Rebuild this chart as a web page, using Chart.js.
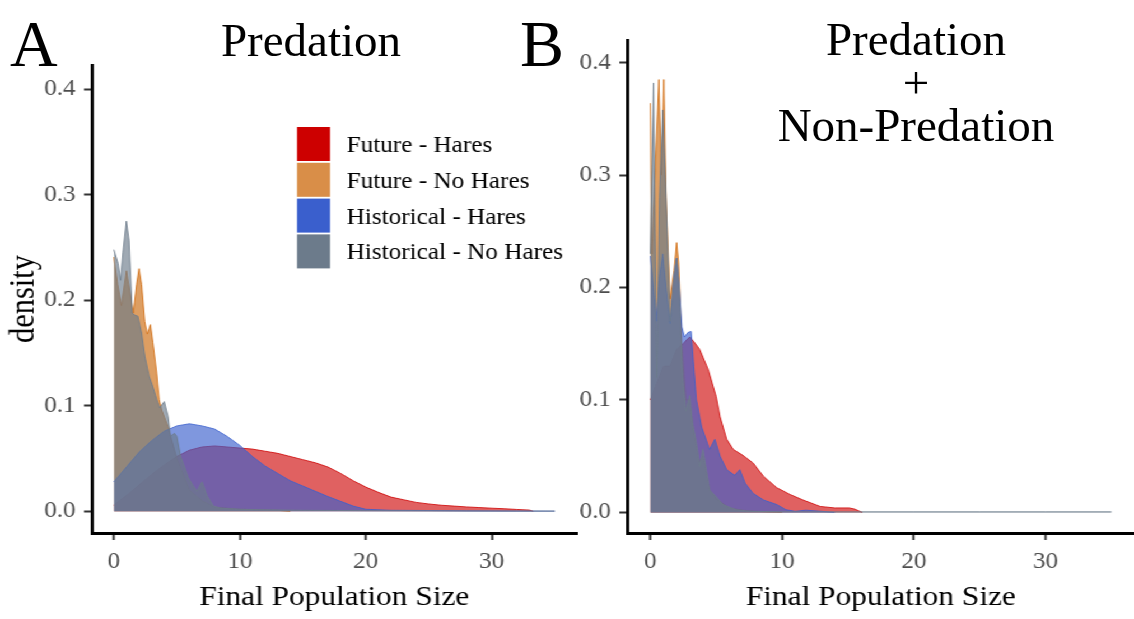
<!DOCTYPE html>
<html><head><meta charset="utf-8">
<script src="https://cdn.jsdelivr.net/npm/chart.js@4.4.1/dist/chart.umd.min.js"></script>
<style>
html,body{margin:0;padding:0;background:#fff;overflow:hidden;width:1134px;height:619px;}
#plots{position:absolute;left:0;top:0;width:1013px;height:619px;transform:scaleX(1.12);transform-origin:0 0;}
#plots canvas{position:absolute;top:0;}
.lbl{position:absolute;font-family:"Liberation Serif","Times New Roman",serif;color:#000;line-height:1;white-space:nowrap;}
</style></head><body>
<div id="plots">
<canvas id="cA" width="518" height="619" style="left:0;width:518px;height:619px"></canvas>
<canvas id="cB" width="495" height="619" style="left:518px;width:495px;height:619px"></canvas>
</div>
<div class="lbl" style="left:10px;top:11px;font-size:66px">A</div>
<div class="lbl" style="left:211px;top:17px;width:200px;text-align:center;font-size:47px">Predation</div>
<div class="lbl" style="left:520px;top:11px;font-size:66px">B</div>
<div class="lbl" style="left:716px;top:18px;width:400px;text-align:center;font-size:47px;line-height:43px">Predation<br>+<br>Non-Predation</div>
<script>
// ---------- data ----------
const seriesLabels = ['Future - Hares', 'Future - No Hares', 'Historical - Hares', 'Historical - No Hares'];
const xTicks = [0, 10, 20, 30];
const yTicks = [0.0, 0.1, 0.2, 0.3, 0.4];

// Panel A: Predation
const predFutureHaresX = [0,1,2,3,4,5,6,7,8,9,10,11,12,13,14,15,16,17,18,19,20,21,22,23,24,25,26,27,28,29,30,31,32,33,33.3];
const predFutureHaresY = [0.006,0.015,0.025,0.035,0.044,0.052,0.058,0.061,0.062,0.061,0.060,0.059,0.057,0.055,0.052,0.049,0.046,0.042,0.036,0.029,0.023,0.018,0.0135,0.011,0.0085,0.007,0.0058,0.005,0.0042,0.0036,0.003,0.0025,0.0018,0.0012,0];
const predFutureNoHaresX = [0,0.3,0.6,1.0,1.3,1.55,1.8,2.0,2.2,2.45,2.65,2.9,3.1,3.4,3.6,3.8,4.3,5.0,5.5,6.0,7.0,8.0,10,13,14];
const predFutureNoHaresY = [0.241,0.215,0.195,0.228,0.205,0.188,0.215,0.230,0.215,0.180,0.168,0.177,0.160,0.131,0.106,0.096,0.080,0.050,0.035,0.020,0.010,0.004,0.002,0.001,0];
const predHistHaresX = [0,1,2,3,4,5,6,7,8,9,10,11,12,13,14,15,16,17,18,19,20,22,25,28,32,35];
const predHistHaresY = [0.028,0.042,0.056,0.067,0.076,0.081,0.083,0.081,0.078,0.071,0.0625,0.052,0.043,0.036,0.029,0.024,0.019,0.014,0.0095,0.005,0.002,0.001,0.0008,0.0005,0.0003,0.0002];
const predHistNoHaresX = [0,0.33,0.53,0.72,0.99,1.2,1.46,1.64,1.9,2.2,2.46,2.8,3.1,3.4,3.65,4.0,4.3,4.5,4.8,5.0,5.3,5.9,6.3,6.6,7.0,7.4,7.9,8.5,10,12,15,20,25,30,35];
const predHistNoHaresY = [0.248,0.235,0.219,0.245,0.275,0.257,0.188,0.186,0.185,0.169,0.147,0.128,0.118,0.106,0.098,0.104,0.090,0.071,0.074,0.071,0.052,0.032,0.024,0.019,0.028,0.0145,0.005,0.003,0.002,0.0015,0.001,0.0007,0.0005,0.0004,0.0003];

// Panel B: Predation + Non-Predation
const bothFutureHaresX = [0,0.5,1.0,1.5,2.0,2.5,2.8,3.0,3.3,3.75,4.4,5.0,5.3,5.8,6.3,7.0,7.8,8.6,9.6,10.6,11.6,12.9,14,15.1,15.5,16.1];
const bothFutureHaresY = [0.10,0.115,0.13,0.13,0.145,0.15,0.154,0.156,0.152,0.145,0.127,0.103,0.085,0.065,0.056,0.051,0.044,0.032,0.022,0.016,0.011,0.0053,0.004,0.004,0.003,0];
const bothFutureNoHaresX = [0,0.12,0.65,0.85,1.03,1.2,1.5,1.8,2.0,2.15,2.4,2.7,3.0,3.3,3.7,4.0,4.5,5.0,6.0,7.0,8.0,10];
const bothFutureNoHaresY = [0.364,0.23,0.385,0.30,0.385,0.28,0.19,0.215,0.24,0.222,0.15,0.10,0.10,0.07,0.045,0.05,0.02,0.012,0.004,0.002,0.001,0];
const bothHistHaresX = [0,0.25,0.46,0.7,0.95,1.2,1.5,1.8,2.0,2.2,2.4,2.6,2.85,3.1,3.3,3.5,3.9,4.5,4.9,5.3,5.8,6.4,6.8,7.2,7.8,8.6,9.6,10.3,11,11.8,13,14];
const bothHistHaresY = [0.228,0.2,0.17,0.21,0.23,0.2,0.168,0.21,0.226,0.2,0.165,0.156,0.16,0.161,0.13,0.1,0.076,0.056,0.065,0.05,0.038,0.033,0.038,0.026,0.017,0.011,0.007,0.0024,0.001,0.002,0.001,0];
const bothHistNoHaresX = [0,0.25,0.5,0.7,0.95,1.2,1.5,1.8,2.0,2.2,2.45,2.7,3.0,3.2,3.5,3.75,4.0,4.5,5.0,5.5,6.5,7.5,10,15,20,25,30,35];
const bothHistNoHaresY = [0.23,0.382,0.12,0.28,0.358,0.28,0.17,0.21,0.226,0.2,0.12,0.09,0.104,0.08,0.062,0.041,0.056,0.02,0.014,0.007,0.0024,0.001,0.0006,0.0005,0.0005,0.0005,0.0005,0.0005];

// ---------- styles ----------
const F = '"Liberation Serif", "Times New Roman", serif';
const legendColors = ['#CD0000', '#D98E48', '#3A5FCD', '#6C7B8B'];
const fillColors = ['rgba(205,0,0,0.62)', 'rgba(210,125,45,0.75)', 'rgba(58,95,205,0.65)', 'rgba(108,123,139,0.65)'];
const lineColors = ['rgba(205,0,0,0.8)', 'rgba(210,110,20,0.85)', 'rgba(58,95,205,0.8)', 'rgba(108,123,139,0.85)'];
const drawOrder = [4, 3, 2, 1]; // later series drawn on top

function pts(xs, ys) { return xs.map((x, i) => ({x: x, y: ys[i]})); }
function makeDatasets(list) {
  return list.map((s, i) => ({
    label: seriesLabels[i], data: pts(s[0], s[1]), order: drawOrder[i],
    fill: 'origin', backgroundColor: fillColors[i], borderColor: lineColors[i],
    borderWidth: 1, pointRadius: 0, tension: 0
  }));
}

const insideLegend = {
  id: 'insideLegend',
  afterDraw(chart, args, o) {
    const ctx = chart.ctx;
    ctx.save();
    seriesLabels.forEach((lab, i) => {
      const y0 = o.top + i * o.pitch;
      ctx.fillStyle = legendColors[i];
      ctx.fillRect(o.x, y0, o.w, o.h);
      ctx.fillStyle = '#000';
      ctx.font = '22.5px ' + F;
      ctx.textBaseline = 'middle';
      ctx.textAlign = 'left';
      ctx.fillText(lab, o.textX, y0 + o.h / 2 + 2);
    });
    ctx.restore();
  }
};

function makeOptions(p) {
  return {
    responsive: false, animation: false, devicePixelRatio: 1,
    layout: {padding: {top: p.top, left: 0, right: p.right, bottom: 0}},
    plugins: {legend: {display: false}, tooltip: {enabled: false},
      insideLegend: {x: 265.2, w: 29.5, top: 127, pitch: 35.8, h: 34, textX: 309.6}},
    scales: {
      x: {
        type: 'linear', min: -1.75, max: 36.75,
        afterBuildTicks: s => { s.ticks = xTicks.map(v => ({value: v})); },
        afterFit: s => { s.height = 86; },
        ticks: {font: {family: F, size: 22.5}, color: '#4d4d4d', padding: 8.5, maxRotation: 0, autoSkip: false,
          callback: v => String(v)},
        grid: {display: true, drawOnChartArea: false, drawTicks: true, tickLength: 7, tickWidth: 2, tickColor: '#333', color: '#333'},
        border: {display: true, color: '#000', width: 3},
        title: {display: true, text: 'Final Population Size', font: {family: F, size: 28}, color: '#000', padding: {top: 0, bottom: 5}}
      },
      y: {
        type: 'linear', min: p.ymin, max: p.ymax,
        afterBuildTicks: s => { s.ticks = yTicks.map(v => ({value: v})); },
        afterFit: s => { s.width = p.yWidth; },
        ticks: {font: {family: F, size: 22.5}, color: '#4d4d4d', padding: 7.5, autoSkip: false,
          callback: v => Number(v).toFixed(1)},
        grid: {display: true, drawOnChartArea: false, drawTicks: true, tickLength: 7, tickWidth: 2, tickColor: '#333', color: '#333'},
        border: {display: true, color: '#000', width: 2.8},
        title: p.yTitle ? {display: true, text: 'density', font: {family: F, size: 30.5}, color: '#000', padding: {top: 4, bottom: 0}} : {display: false}
      }
    }
  };
}

function drawAll() {
  new Chart(document.getElementById('cA'), {
    type: 'line',
    data: {datasets: makeDatasets([
      [predFutureHaresX, predFutureHaresY],
      [predFutureNoHaresX, predFutureNoHaresY],
      [predHistHaresX, predHistHaresY],
      [predHistNoHaresX, predHistNoHaresY]])},
    options: makeOptions({top: 65, right: 3, yWidth: 82, ymin: -0.0205, ymax: 0.423, yTitle: true}),
    plugins: [insideLegend]
  });
  new Chart(document.getElementById('cB'), {
    type: 'line',
    data: {datasets: makeDatasets([
      [bothFutureHaresX, bothFutureHaresY],
      [bothFutureNoHaresX, bothFutureNoHaresY],
      [bothHistHaresX, bothHistHaresY],
      [bothHistNoHaresX, bothHistNoHaresY]])},
    options: makeOptions({top: 40, right: 0, yWidth: 42, ymin: -0.0183, ymax: 0.4202, yTitle: false})
  });
}

let done = false;
function go() { if (!done) { done = true; drawAll(); } }
if (document.fonts && document.fonts.load) {
  Promise.all([
    document.fonts.load('22.5px "Liberation Serif"'),
    document.fonts.load('28px "Liberation Serif"')
  ]).then(() => document.fonts.ready).then(go, go);
  setTimeout(go, 1500);
} else { go(); }
</script>
</body></html>
